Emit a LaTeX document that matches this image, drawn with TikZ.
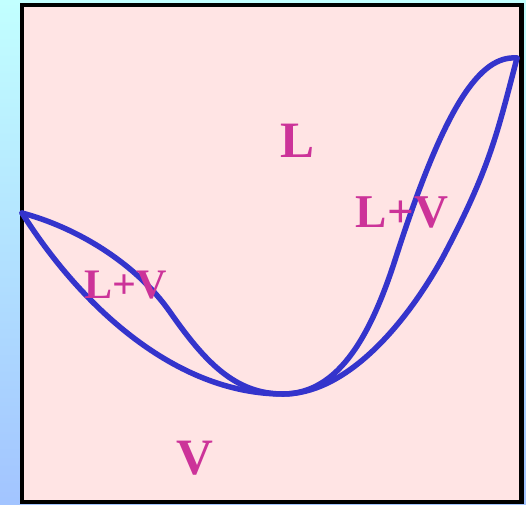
\documentclass[tikz,border=0pt]{standalone}
\usepackage{fontspec}
\setmainfont{Liberation Serif}
\usetikzlibrary{positioning}

\definecolor{skytop}{HTML}{C2FFFF}
\definecolor{skybot}{HTML}{A2C4FF}
\definecolor{panel}{HTML}{FFE4E4}
\definecolor{curveblue}{HTML}{3434CC}
\definecolor{labmag}{HTML}{CC3399}

\begin{document}
\begin{tikzpicture}[x=1pt, y=-1pt,
      phase/.style={line width=5.5pt, curveblue, line join=round, line cap=round},
      lab/.style={text=labmag, inner sep=0pt, anchor=base, font=\bfseries}]
    \useasboundingbox (0,0) rectangle (526,504);
    \shade[top color=skytop, bottom color=skybot] (0,0) rectangle (526,504);
    \draw[fill=panel, line width=4.5pt] (22,5) rectangle (521.5,502);
    \coordinate (lft) at (22,213);
    \coordinate (azeo) at (283,394);
    \coordinate (rgt) at (517,58);
    % left lens
    \draw[phase] (lft) .. controls (75,227) and (135,262) .. (170,312)
                       .. controls (205,362) and (235,394) .. (azeo);
    \draw[phase] (lft) .. controls (80,305) and (175,394) .. (azeo);
    % right lens
    \draw[phase] (azeo) .. controls (340,394) and (372,332) .. (396,257)
                        .. controls (445,105) and (480,55) .. (rgt);
    \draw[phase] (azeo) .. controls (350,394) and (410,317) .. (443,257)
                        .. controls (490,168) and (497,134) .. (rgt);
    \node[lab, font=\bfseries\fontsize{51}{51}\selectfont] (liq) at (298,157) {L};
    \node[lab, font=\bfseries\fontsize{42}{42}\selectfont] (lensl) at (126,298) {L+V};
    \node[lab, font=\bfseries\fontsize{47}{47}\selectfont] (lensr) at (402,227) {L+V};
    \node[lab, font=\bfseries\fontsize{51}{51}\selectfont] (vap) at (195,474) {V};
  \end{tikzpicture}
\end{document}
